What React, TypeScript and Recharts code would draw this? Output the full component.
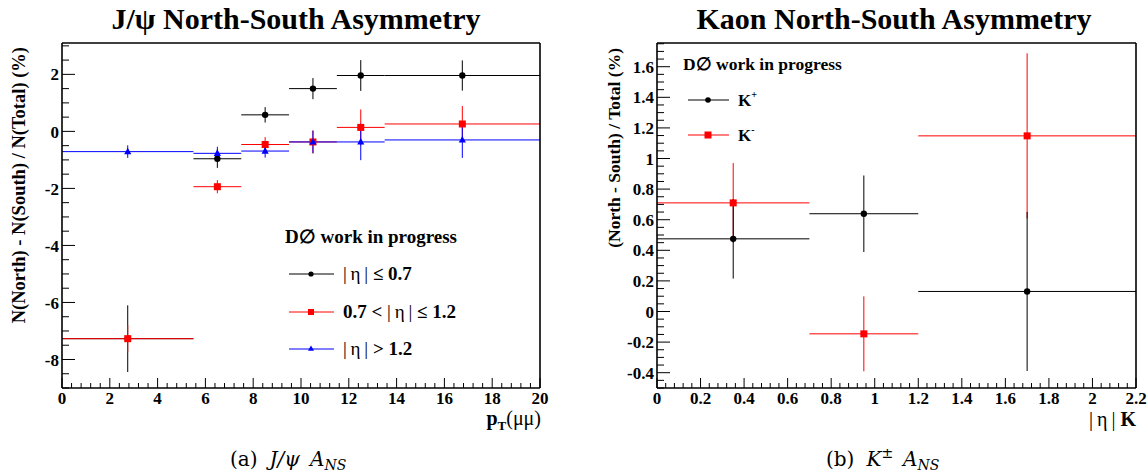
import React from "react";
import { ScatterChart, Scatter, XAxis, YAxis, ErrorBar } from "recharts";

// J/psi: pT bins (centres and half widths) and asymmetry per |eta| range
const ptCenters = [2.75, 6.5, 8.5, 10.5, 12.5, 16.75];
const ptHalfWidths = [2.75, 1, 1, 1, 1, 3.25];
const etaLow = [-7.27, -0.96, 0.58, 1.5, 1.96, 1.96];
const etaLowErr = [1.17, 0.32, 0.27, 0.37, 0.54, 0.53];
const etaMid = [-7.27, -1.94, -0.46, -0.37, 0.14, 0.26];
const etaMidErr = [0.47, 0.23, 0.26, 0.41, 0.63, 0.63];
const etaHigh = [-0.71, -0.77, -0.69, -0.37, -0.37, -0.3];
const etaHighErr = [0.22, 0.23, 0.23, 0.39, 0.64, 0.63];

// Kaons: |eta| bins and asymmetry per charge
const kCenters = [0.35, 0.95, 1.7];
const kHalfWidths = [0.35, 0.25, 0.5];
const kPlus = [0.475, 0.639, 0.131];
const kPlusErr = [0.26, 0.25, 0.52];
const kMinus = [0.71, -0.146, 1.148];
const kMinusErr = [0.26, 0.245, 0.54];

// tick labels
const ptTicks = [0, 2, 4, 6, 8, 10, 12, 14, 16, 18, 20];
const jpsiYTicks = [-8, -6, -4, -2, 0, 2];
const kXTicks = [0, 0.2, 0.4, 0.6, 0.8, 1, 1.2, 1.4, 1.6, 1.8, 2, 2.2];
const kYTicks = [-0.4, -0.2, 0, 0.2, 0.4, 0.6, 0.8, 1, 1.2, 1.4, 1.6];

const FONT = "'Liberation Serif', 'Times New Roman', serif";
const CM = "'DejaVu Serif', 'Liberation Serif', serif";

const rows = (x: number[], hw: number[], y: number[], e: number[]) =>
  x.map((v, i) => ({ x: v, y: y[i], ex: hw[i], ey: e[i] }));

const steps = (from: number, to: number, step: number) => {
  const out: number[] = [];
  for (let v = from; v <= to + 1e-9; v += step) out.push(Math.round(v * 1000) / 1000);
  return out;
};

const isMajor = (majors: number[], v: number) => majors.some((m) => Math.abs(m - v) < 1e-6);

const yTick = (majors: number[], big: number, small: number) => (p: any) => {
  const v = p.payload.value;
  const maj = isMajor(majors, v);
  return (
    <g>
      <line x1={p.x} x2={p.x + (maj ? big : small)} y1={p.y} y2={p.y} stroke="#000" />
      {maj && (
        <text x={p.x - 3} y={p.y} dy="0.36em" textAnchor="end" fontFamily={FONT} fontWeight="bold" fontSize={17} fill="#000">
          {v}
        </text>
      )}
    </g>
  );
};

const xTick = (majors: number[], big: number, small: number) => (p: any) => {
  const v = p.payload.value;
  const maj = isMajor(majors, v);
  return (
    <g>
      <line x1={p.x} x2={p.x} y1={p.y} y2={p.y - (maj ? big : small)} stroke="#000" />
      {maj && (
        <text x={p.x} y={p.y + 16} textAnchor="middle" fontFamily={FONT} fontWeight="bold" fontSize={17} fill="#000">
          {v}
        </text>
      )}
    </g>
  );
};

const dot = (color: string) => (p: any) => <circle cx={p.cx} cy={p.cy} r={3.2} fill={color} />;
const square = (color: string) => (p: any) => <rect x={p.cx - 3.5} y={p.cy - 3.5} width={7} height={7} fill={color} />;
const triangle = (color: string) => (p: any) => (
  <polygon points={`${p.cx},${p.cy - 4} ${p.cx - 3.6},${p.cy + 2.6} ${p.cx + 3.6},${p.cy + 2.6}`} fill={color} />
);

function Series({ data, color, shape }: { data: any[]; color: string; shape: any }) {
  return (
    <Scatter data={data} shape={shape} isAnimationActive={false}>
      <ErrorBar dataKey="ex" direction="x" width={0} stroke={color} strokeWidth={1} />
      <ErrorBar dataKey="ey" direction="y" width={0} stroke={color} strokeWidth={1} />
    </Scatter>
  );
}

const frameLine = { stroke: "#000", strokeWidth: 1.6 };

function JpsiChart() {
  return (
    <ScatterChart width={580} height={473} margin={{ top: 42, right: 39, bottom: 84, left: 0 }}>
      <XAxis type="number" dataKey="x" domain={[0, 20]} ticks={steps(0, 20, 0.4)} interval={0} tickSize={0} tickMargin={0}
        height={1} axisLine={frameLine} tickLine={false} tick={xTick(ptTicks, 10, 5)} />
      <XAxis xAxisId="top" orientation="top" type="number" domain={[0, 20]} height={1} tick={false} tickLine={false}
        axisLine={frameLine} />
      <YAxis type="number" dataKey="y" domain={[-9, 3.1]} ticks={steps(-9, 3, 0.5)} interval={0} tickSize={0} tickMargin={0}
        width={62} axisLine={frameLine} tickLine={false} tick={yTick(jpsiYTicks, 13, 7)} />
      <YAxis yAxisId="right" orientation="right" type="number" domain={[-9, 3.1]} width={1} tick={false} tickLine={false}
        axisLine={frameLine} />
      {Series({ data: rows(ptCenters, ptHalfWidths, etaLow, etaLowErr), color: "#000", shape: dot("#000") })}
      {Series({ data: rows(ptCenters, ptHalfWidths, etaMid, etaMidErr), color: "#ff0000", shape: square("#ff0000") })}
      {Series({ data: rows(ptCenters, ptHalfWidths, etaHigh, etaHighErr), color: "#0000ff", shape: triangle("#0000ff") })}
    </ScatterChart>
  );
}

function KaonChart() {
  return (
    <ScatterChart width={568} height={473} margin={{ top: 42, right: 11, bottom: 84, left: 0 }}>
      <XAxis type="number" dataKey="x" domain={[0, 2.2]} ticks={steps(0, 2.2, 0.04)} interval={0} tickSize={0} tickMargin={0}
        height={1} axisLine={frameLine} tickLine={false} tick={xTick(kXTicks, 10, 5)} />
      <XAxis xAxisId="top" orientation="top" type="number" domain={[0, 2.2]} height={1} tick={false} tickLine={false}
        axisLine={frameLine} />
      <YAxis type="number" dataKey="y" domain={[-0.5, 1.755]} ticks={steps(-0.5, 1.75, 0.05)} interval={0} tickSize={0} tickMargin={0}
        width={77} axisLine={frameLine} tickLine={false} tick={yTick(kYTicks, 13, 7)} />
      <YAxis yAxisId="right" orientation="right" type="number" domain={[-0.5, 1.755]} width={1} tick={false} tickLine={false}
        axisLine={frameLine} />
      {Series({ data: rows(kCenters, kHalfWidths, kMinus, kMinusErr), color: "#ff0000", shape: square("#ff0000") })}
      {Series({ data: rows(kCenters, kHalfWidths, kPlus, kPlusErr), color: "#000", shape: dot("#000") })}
    </ScatterChart>
  );
}

const ETA = "|\u2009η\u2009|";

function Overlay() {
  const b = { fontFamily: FONT, fontWeight: "bold" as const, fill: "#000" };
  const n = { fontFamily: FONT, fontWeight: "normal" as const, fill: "#000" };
  return (
    <svg width={1148} height={473} style={{ position: "absolute", left: 0, top: 0, pointerEvents: "none" }}>
      {/* titles */}
      <text x={296} y={29} textAnchor="middle" fontSize={30} {...b}>J/ψ North-South Asymmetry</text>
      <text x={894} y={29} textAnchor="middle" fontSize={30} {...b}>Kaon North-South Asymmetry</text>

      {/* axis titles */}
      <text transform="translate(25,47) rotate(-90)" textAnchor="end" fontSize={18.5} {...b}>
        N(North) - N(South) / N(Total) (%)
      </text>
      <text transform="translate(620,48) rotate(-90)" textAnchor="end" fontSize={17.5} {...b}>
        (North - South) / Total (%)
      </text>
      <text x={541} y={425} textAnchor="end" fontSize={20}>
        <tspan {...b}>p</tspan>
        <tspan {...b} fontSize={13} dy={5}>T</tspan>
        <tspan {...n} dy={-5}>(μμ)</tspan>
      </text>
      <text x={1136} y={426} textAnchor="end" fontSize={20}>
        <tspan {...n}>{ETA} </tspan>
        <tspan {...b}>K</tspan>
      </text>

      {/* J/psi legend */}
      <text x={285} y={243} fontSize={19} {...b}>D∅ work in progress</text>
      <line x1={289} x2={334} y1={274} y2={274} stroke="#000" />
      <circle cx={311} cy={274} r={2.6} fill="#000" />
      <text x={343} y={280} fontSize={19}>
        <tspan {...n}>{ETA} </tspan><tspan {...b}>≤ 0.7</tspan>
      </text>
      <line x1={289} x2={334} y1={312} y2={312} stroke="#ff0000" />
      <rect x={308} y={309} width={6} height={6} fill="#ff0000" />
      <text x={343} y={318} fontSize={19}>
        <tspan {...b}>0.7 &lt; </tspan><tspan {...n}>{ETA} </tspan><tspan {...b}>≤ 1.2</tspan>
      </text>
      <line x1={289} x2={334} y1={349} y2={349} stroke="#0000ff" />
      <polygon points="311,345.5 308,350.8 314,350.8" fill="#0000ff" />
      <text x={343} y={355} fontSize={19}>
        <tspan {...n}>{ETA} </tspan><tspan {...b}>&gt; 1.2</tspan>
      </text>

      {/* Kaon legend */}
      <text x={683} y={70} fontSize={17.5} {...b}>D∅ work in progress</text>
      <line x1={688} x2={729} y1={100} y2={100} stroke="#000" />
      <circle cx={708} cy={100} r={2.8} fill="#000" />
      <text x={738} y={106} fontSize={17} {...b}>K<tspan fontSize={10} dy={-8}>+</tspan></text>
      <line x1={688} x2={729} y1={135} y2={135} stroke="#ff0000" />
      <rect x={704.5} y={131.5} width={7} height={7} fill="#ff0000" />
      <text x={738} y={141} fontSize={17} {...b}>K<tspan fontSize={10} dy={-8}>-</tspan></text>

      {/* captions */}
      <text x={230} y={466} fontSize={20} fontFamily={CM} fill="#000">
        (a)<tspan dx={12} fontStyle="italic">J/ψ</tspan>
        <tspan dx={10} fontStyle="italic">A</tspan><tspan fontStyle="italic" fontSize={14} dy={4}>NS</tspan>
      </text>
      <text x={826} y={466} fontSize={20} fontFamily={CM} fill="#000">
        (b)<tspan dx={12} fontStyle="italic">K</tspan><tspan fontSize={14} dy={-8}>±</tspan>
        <tspan dx={10} fontStyle="italic" dy={8}>A</tspan><tspan fontStyle="italic" fontSize={14} dy={4}>NS</tspan>
      </text>
    </svg>
  );
}

export default function App() {
  return (
    <div style={{ position: "absolute", left: 0, top: 0, width: 1148, height: 473, background: "#fff", fontFamily: FONT }}>
      <div style={{ position: "absolute", left: 0, top: 0 }}>
        <JpsiChart />
      </div>
      <div style={{ position: "absolute", left: 580, top: 0 }}>
        <KaonChart />
      </div>
      <Overlay />
    </div>
  );
}
